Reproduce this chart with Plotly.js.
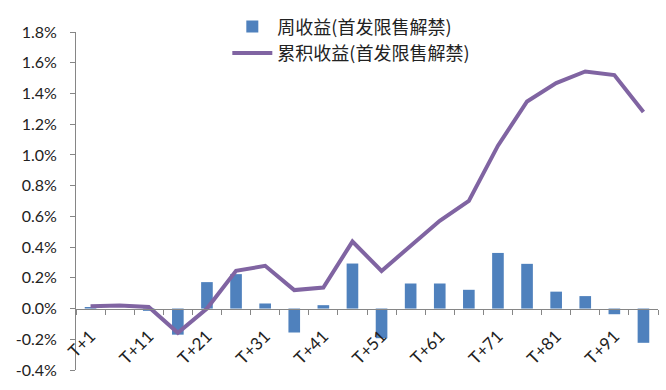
<!DOCTYPE html>
<html><head><meta charset="utf-8">
<script src="https://cdn.plot.ly/plotly-3.0.1.min.js"></script>
<style>html,body{margin:0;padding:0;background:#fff;}#chart{width:666px;height:390px;}</style>
</head><body><div id="chart"></div>
<script>
var categories = ["T+1","T+6","T+11","T+16","T+21","T+26","T+31","T+36","T+41","T+46","T+51","T+56","T+61","T+66","T+71","T+76","T+81","T+86","T+91","T+96"];
var weeklyReturn = [0.01,0.0,-0.015,-0.17,0.172,0.224,0.033,-0.156,0.022,0.293,-0.193,0.163,0.163,0.122,0.362,0.291,0.11,0.081,-0.037,-0.223];
var cumulativeReturn = [0.015,0.02,0.01,-0.158,0.0,0.245,0.278,0.12,0.137,0.436,0.245,0.408,0.571,0.70,1.06,1.348,1.467,1.543,1.52,1.28];
var yTickVals = [-0.4,-0.2,0,0.2,0.4,0.6,0.8,1.0,1.2,1.4,1.6,1.8];
var yTickText = ["-0.4%","-0.2%","0.0%","0.2%","0.4%","0.6%","0.8%","1.0%","1.2%","1.4%","1.6%","1.8%"];
var xTickText = categories.map(function(c,i){return i%2===0?c:"";});

var font = "Lato, 'Liberation Sans', sans-serif";
var traces = [
  {type:"bar", name:"周收益(首发限售解禁)", x:categories, y:weeklyReturn,
   marker:{color:"#4F81BD", line:{width:0}}},
  {type:"scatter", mode:"lines", name:"累积收益(首发限售解禁)", x:categories, y:cumulativeReturn,
   line:{color:"#8064A2", width:4}}
];
var layout = {
  width:666, height:390,
  margin:{l:76, r:8, t:32, b:20},
  paper_bgcolor:"#fff", plot_bgcolor:"#fff",
  font:{family:font, size:16, color:"#222"},
  bargap:0.6,
  showlegend:true,
  legend:{x:0.26, y:1.07, xanchor:"left", yanchor:"top", bgcolor:"rgba(0,0,0,0)",
          font:{family:"'Noto Sans CJK SC', sans-serif", size:18, color:"#222"},
          tracegroupgap:0, itemwidth:40},
  xaxis:{type:"category", categoryorder:"array", categoryarray:categories,
         tickmode:"array", tickvals:categories, ticktext:xTickText,
         tickson:"boundaries", ticks:"outside", ticklen:5, tickcolor:"#868686",
         showline:true, linecolor:"#868686", linewidth:1,
         anchor:"free", position:(0.4/2.2), tickangle:-45, ticklabelstandoff:10,
         showgrid:false, zeroline:false, range:[-0.5,19.5],
         tickfont:{family:font, size:17, color:"#222"}},
  yaxis:{range:[-0.4,1.8], tickmode:"array", tickvals:yTickVals, ticktext:yTickText,
         ticks:"outside", ticklen:5, tickcolor:"#868686",
         showline:true, linecolor:"#868686", linewidth:1,
         showgrid:false, zeroline:false, ticklabelstandoff:10,
         tickfont:{family:font, size:16, color:"#222"}}
};
Plotly.newPlot("chart", traces, layout, {displayModeBar:false, staticPlot:true});
</script></body></html>
